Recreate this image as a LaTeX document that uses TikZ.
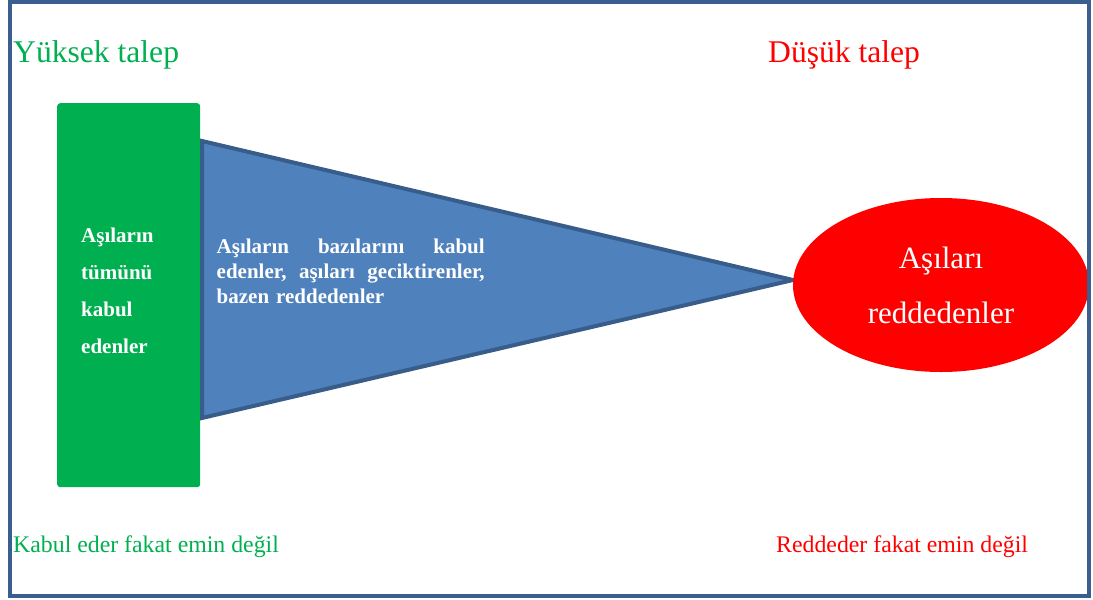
\documentclass[tikz,border=0pt]{standalone}
\usepackage{fontspec}
\setmainfont{Liberation Serif}
\usetikzlibrary{shapes.geometric}

\definecolor{yesil}{HTML}{00B050}
\definecolor{kirmizi}{HTML}{FF0000}
\definecolor{mavi}{HTML}{4F81BD}
\definecolor{koyumavi}{HTML}{385D8A}
\definecolor{cerceverengi}{HTML}{3A5F8F}

\tikzset{
	baslik/.style={anchor=base west, inner sep=0pt, font=\fontsize{31.6}{37}\selectfont},
	altyazi/.style={anchor=base west, inner sep=0pt, font=\fontsize{23.8}{28}\selectfont},
	kalin/.style={anchor=north west, inner sep=0pt, align=left, text=white,
		font=\bfseries\fontsize{21}{#1}\selectfont},
	huni/.style={fill=mavi, draw=koyumavi, line width=4pt, line join=miter}
}

\begin{document}
\begin{tikzpicture}[x=1pt,y=-1pt]
				\useasboundingbox (0,0) rectangle (1093,600);
				% ust basliklar
				\node[baslik, text=yesil] (yuksek) at (13,62) {Yüksek talep};
				\node[baslik, text=kirmizi] (dusuk) at (768,62) {Düşük talep};
				% sol kutu
				\node[anchor=north west, fill=yesil, rounded corners=3pt,
					minimum width=143pt, minimum height=384pt, inner sep=0pt] (tumu) at (57,103) {};
				\node[kalin=37pt, text width=95pt] (tumuyazi) at ([xshift=24pt,yshift=-124.5pt]tumu.north west)
					{Aşıların\\tümünü\\kabul\\edenler};
				% huni
				\coordinate (ust) at (202,141);
				\coordinate (alt) at (202,418);
				\coordinate (uc) at (793,280);
				\draw[huni] (ust) -- (uc) -- (alt) -- cycle;
				\node[kalin=25pt, text width=268pt] (bazi) at (216.5,238.5)
					{Aşıların\hfill bazılarını\hfill kabul\\
					edenler,\hfill aşıları\hfill geciktirenler,\\
					bazen reddedenler};
				% sag elips
				\node[ellipse, fill=kirmizi, text=white, minimum width=296pt, minimum height=174pt,
					inner sep=0pt, align=center, font=\fontsize{31}{55}\selectfont] (ret) at (941,285)
					{Aşıları\\reddedenler};
				% alt yazilar
				\node[altyazi, text=yesil] (kabul) at (13,552) {Kabul eder fakat emin değil};
				\node[altyazi, text=kirmizi] (red) at (776,552) {Reddeder fakat emin değil};
				% cerceve
				\draw[cerceverengi, line width=4pt] (9.5,2) rectangle (1088.5,596);
			\end{tikzpicture}
\end{document}
